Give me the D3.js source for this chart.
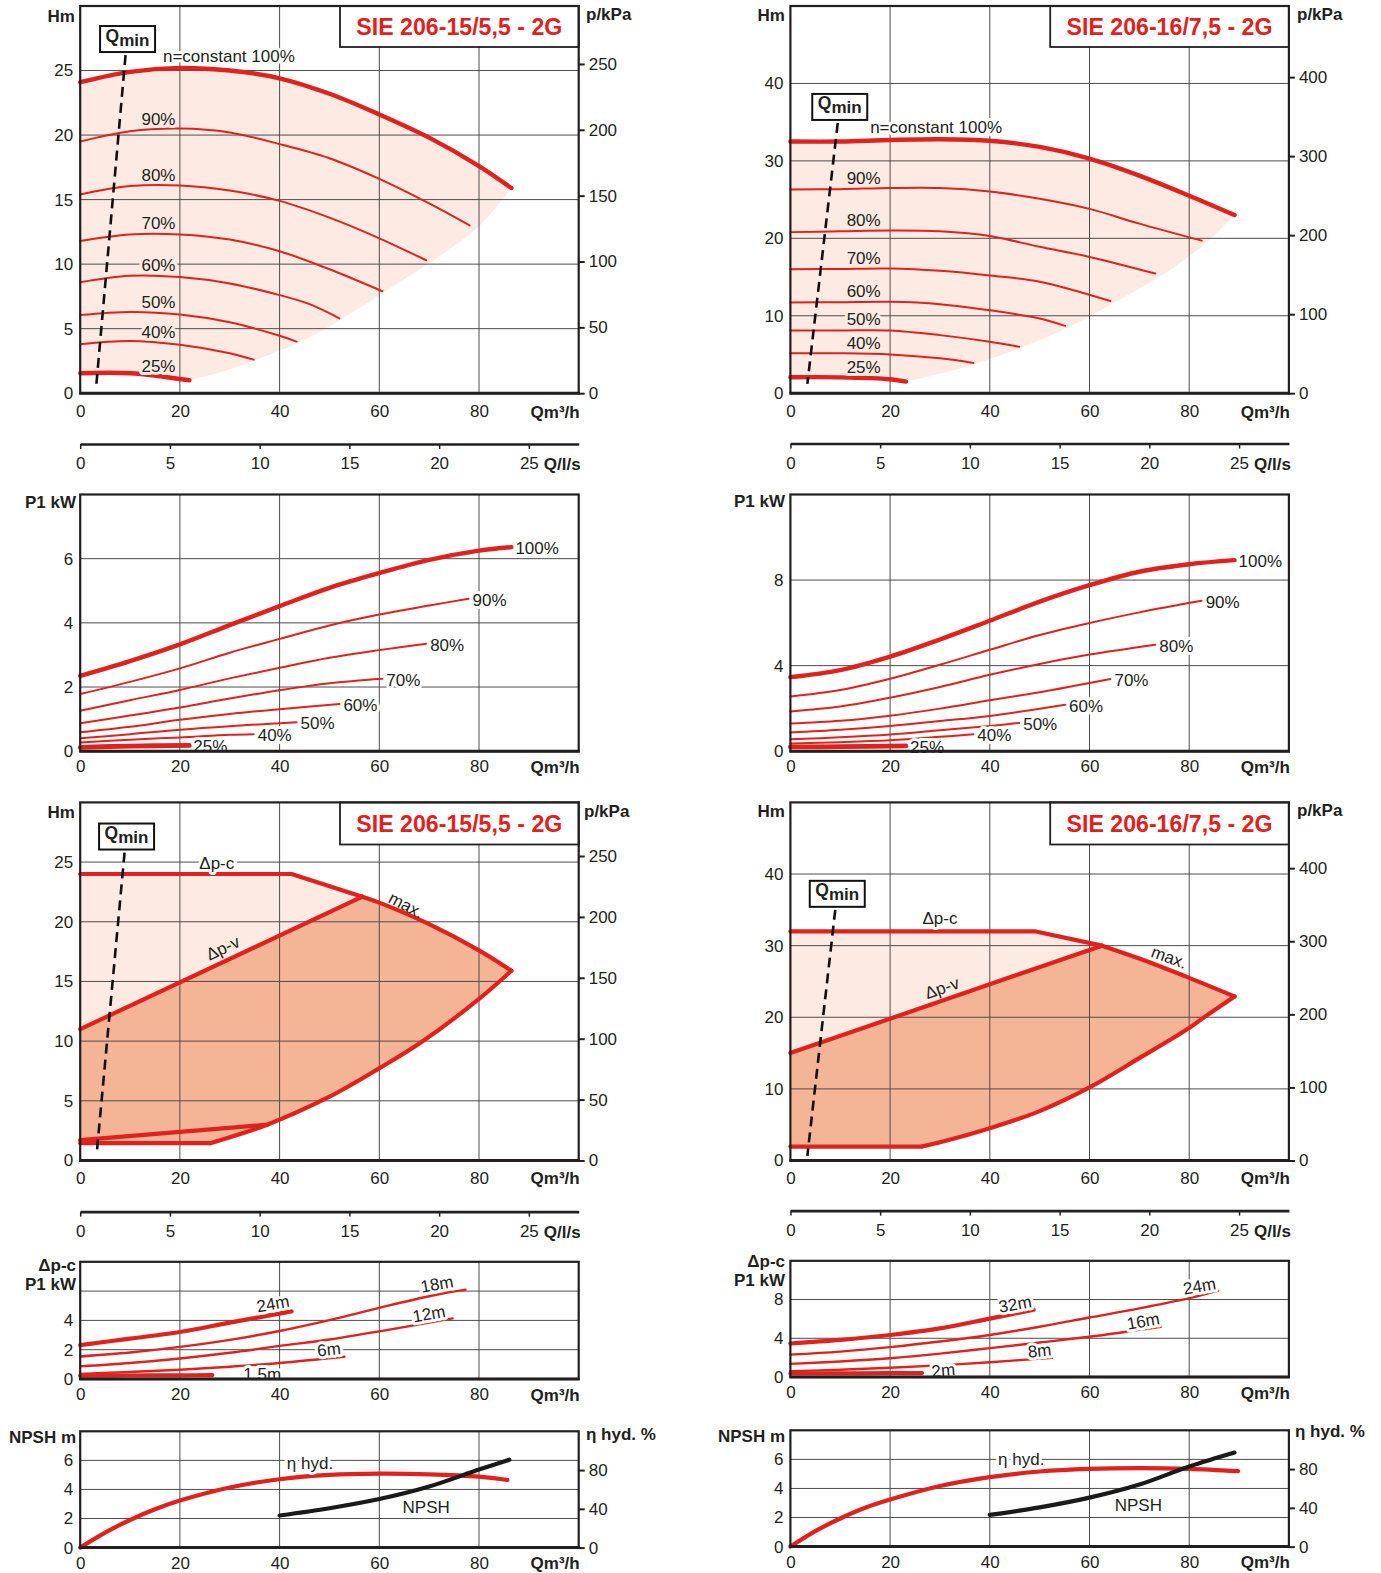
<!DOCTYPE html>
<html>
<head>
<meta charset="utf-8">
<script src="https://cdn.jsdelivr.net/npm/d3@7"></script>
<style>
  body { margin: 0; background: #fff; }
</style>
</head>
<body>
<script>
// ---- values (A = 206-15/5,5, B = 206-16/7,5) ----
const modelA = "SIE 206-15/5,5 - 2G";
const modelB = "SIE 206-16/7,5 - 2G";
const speeds = ["100%", "90%", "80%", "70%", "60%", "50%", "40%", "25%"];

// H [m] against Q [m3/h], one list per speed
const hqA = [
  [[0,24.1],[10,24.9],[20,25.2],[30,25.0],[40,24.4],[50,23.2],[60,21.6],[70,19.8],[80,17.6],[86.5,15.9]],
  [[0,19.5],[10,20.3],[20,20.5],[30,20.2],[40,19.3],[50,18.2],[60,16.6],[70,14.7],[78.1,13.0]],
  [[0,15.4],[10,16.05],[20,16.1],[30,15.7],[40,14.9],[50,13.6],[60,12.0],[69.4,10.3]],
  [[0,11.8],[10,12.3],[20,12.3],[30,11.9],[40,11.0],[50,9.6],[60.6,7.9]],
  [[0,8.6],[10,9.1],[20,9.0],[30,8.5],[40,7.6],[46,6.9],[52,5.8]],
  [[0,6.05],[10,6.3],[20,6.1],[30,5.5],[40,4.45],[43.4,4.0]],
  [[0,3.8],[10,4.05],[20,3.75],[30,3.1],[34.8,2.6]],
  [[0,1.55],[10,1.55],[21.9,1.0]]
];
const hqB = [
  [[0,32.5],[10,32.5],[20,32.7],[30,32.8],[40,32.6],[50,31.8],[60,30.3],[70,28.1],[80,25.5],[89.1,23.0]],
  [[0,26.3],[10,26.35],[20,26.5],[30,26.5],[40,26.05],[50,25.1],[60,23.8],[70,21.9],[82.5,19.7]],
  [[0,20.8],[10,20.9],[20,21.0],[30,20.9],[40,20.3],[50,18.9],[60,17.6],[73.2,15.45]],
  [[0,16.0],[10,16.05],[20,16.1],[30,15.8],[40,15.2],[50,14.4],[64.2,11.9]],
  [[0,11.7],[10,11.75],[20,11.8],[30,11.5],[40,10.7],[50,9.65],[55.1,8.7]],
  [[0,8.1],[10,8.1],[20,8.1],[30,7.5],[40,6.65],[45.9,6.0]],
  [[0,5.15],[10,5.15],[20,5.0],[30,4.5],[36.7,3.9]],
  [[0,2.06],[10,2.05],[20,1.8],[23.2,1.5]]
];
// lower edge of the shaded working area
const envA = [[86.5,15.9],[80.2,13.0],[70.9,10.3],[61.2,7.9],[52.7,5.8],[44.3,4.0],[35.4,2.6],[28,1.6],[21.9,1.0]];
const envB = [[89.1,23.0],[83.9,19.7],[75.1,15.45],[65.5,11.9],[56.4,8.7],[46.8,6.0],[37.6,3.9],[30,2.5],[23.2,1.5]];

// P1 [kW] against Q
const p1A = [
  [[0,2.35],[10,2.81],[20,3.33],[30,3.93],[40,4.52],[50,5.09],[60,5.55],[70,5.96],[80,6.25],[86.5,6.36]],
  [[0,1.78],[10,2.16],[20,2.58],[30,3.07],[40,3.50],[50,3.92],[60,4.26],[70,4.54],[77.9,4.75]],
  [[0,1.26],[10,1.59],[20,1.91],[30,2.27],[40,2.60],[50,2.91],[60,3.15],[69.4,3.35]],
  [[0,0.87],[10,1.11],[20,1.36],[30,1.64],[40,1.90],[50,2.12],[60.6,2.26]],
  [[0,0.59],[10,0.76],[20,0.98],[30,1.16],[40,1.31],[52,1.47]],
  [[0,0.40],[10,0.53],[20,0.67],[30,0.78],[40,0.87],[43.4,0.90]],
  [[0,0.27],[10,0.36],[20,0.43],[30,0.51],[34.8,0.53]],
  [[0,0.12],[10,0.16],[21.9,0.18]]
];
const p1B = [
  [[0,3.46],[10,3.79],[20,4.42],[30,5.22],[40,6.10],[50,6.99],[60,7.76],[70,8.39],[80,8.74],[89.1,8.93]],
  [[0,2.56],[10,2.86],[20,3.39],[30,4.04],[40,4.74],[50,5.43],[60,5.99],[70,6.49],[82.5,7.03]],
  [[0,1.86],[10,2.09],[20,2.50],[30,3.00],[40,3.57],[50,4.08],[60,4.52],[73.2,4.98]],
  [[0,1.29],[10,1.42],[20,1.66],[30,1.99],[40,2.38],[50,2.76],[64.2,3.38]],
  [[0,0.87],[10,1.00],[20,1.18],[30,1.41],[40,1.65],[55.1,2.17]],
  [[0,0.56],[10,0.65],[20,0.78],[30,0.98],[40,1.18],[45.9,1.32]],
  [[0,0.36],[10,0.42],[20,0.51],[30,0.67],[36.7,0.79]],
  [[0,0.20],[10,0.21],[23.2,0.25]]
];

// Qmin dashed lines [Q, H]
const qminTopA = [[9.1,26.2],[3.2,0.5]];
const qminTopB = [[9.5,34.9],[3.4,1.2]];
const qminCtlA = [[8.9,25.8],[3.3,0.55]];
const qminCtlB = [[9.0,35.0],[3.4,0.65]];

// control-mode field (delta p-c / delta p-v / max / min)
const dpcA = [[0,24],[42.4,24],[56.6,22.1]];
const dpvA = [[0,11],[56.6,22.1]];
const maxA = [[56.6,22.1],[60,21.6],[70,19.8],[80,17.6],[86.5,15.9]];
const lowA = [[86.5,15.9],[80.2,13.6],[68.4,9.9],[59.9,7.7],[49.8,5.3],[37.5,3.0],[26.1,1.45]];
const minA = [[0,1.45],[26.1,1.45]];
const dpvLowA = [[0,1.7],[37.5,3.0]];
const dpcB = [[0,32],[49,32],[62.5,30]];
const dpvB = [[0,15],[62.5,30]];
const maxB = [[62.5,30],[70,28.2],[80,25.5],[89.1,22.9]];
const lowB = [[89.1,22.9],[83,20.0],[80,18.5],[70,14.3],[60,10.2],[50,6.9],[40,4.5],[30.6,2.65],[26.4,1.95]];
const minB = [[0,1.95],[26.4,1.95]];

// P1 [kW] at constant delta p-c heads
const headsA = ["24m", "18m", "12m", "6m", "1.5m"];
const dpcP1A = [
  [[0,2.31],[10,2.76],[20,3.21],[30,3.85],[42.4,4.62]],
  [[0,1.54],[10,1.81],[20,2.19],[30,2.67],[40,3.28],[50,4.02],[60,4.86],[70,5.65],[77.3,6.1]],
  [[0,0.86],[10,1.09],[20,1.40],[30,1.79],[40,2.26],[50,2.70],[60,3.25],[74.7,4.14]],
  [[0,0.34],[10,0.48],[20,0.63],[30,0.84],[40,1.09],[53,1.52]],
  [[0,0.23],[10,0.24],[20,0.25],[26.5,0.27]]
];
const headsB = ["32m", "24m", "16m", "8m", "2m"];
const dpcP1B = [
  [[0,3.46],[10,3.83],[20,4.34],[30,5.02],[40,6.03],[48.8,6.95]],
  [[0,2.31],[10,2.62],[20,3.08],[30,3.66],[40,4.34],[50,5.19],[60,6.14],[70,7.08],[80,8.14],[85.8,8.92]],
  [[0,1.36],[10,1.6],[20,1.93],[30,2.41],[40,2.98],[50,3.56],[60,4.15],[74.3,5.19]],
  [[0,0.61],[10,0.75],[20,0.95],[30,1.20],[40,1.53],[52.5,1.97]],
  [[0,0.37],[10,0.38],[20,0.39],[26.4,0.40]]
];

// hydraulic efficiency [%] and NPSH [m]
const etaA = [[0,0],[5,15.5],[10,28.5],[15,39.5],[20,48.5],[30,62],[40,70.5],[50,75],[60,76.3],[70,75.6],[80,73.2],[85.7,69.8]];
const npshA = [[40,2.21],[50,2.71],[60,3.34],[70,4.20],[80,5.37],[86.1,6.05]];
const etaB = [[0,0],[5,16],[10,29],[15,40],[20,48.5],[30,62.5],[40,71.7],[50,77.5],[60,80.2],[70,80.9],[80,80.2],[89.8,77.8]];
const npshB = [[40,2.18],[50,2.7],[60,3.37],[70,4.27],[80,5.51],[89.1,6.47]];

// tick values
const qTicks = [0, 20, 40, 60, 80];
const lpsTicks = [0, 5, 10, 15, 20, 25];
const hTicksA = [0, 5, 10, 15, 20, 25];
const kpaTicksA = [0, 50, 100, 150, 200, 250];
const hTicksB = [0, 10, 20, 30, 40];
const kpaTicksB = [0, 100, 200, 300, 400];
const p1TicksA = [0, 2, 4, 6];
const p1TicksB = [0, 4, 8];
const dpcTicksA = [0, 2, 4];
const dpcTicksB = [0, 4, 8];
const npshTicks = [0, 2, 4, 6];
const etaTicks = [0, 40, 80];

// ---- drawing ----
const FONT = '"Liberation Sans", Arial, Helvetica, sans-serif';
const RED = "#e3211c", PINK = "#fdebe3", SALMON = "#f4b496", INK = "#231f20", GRID = "#4d4d4d";
const FS = 17, FSB = 17;

const svg = d3.select("body").append("svg")
  .attr("width", 1381).attr("height", 1573)
  .attr("font-family", FONT)
  .style("display", "block");

const colA = {x0: 80.2, x1: 578.7};
const colB = {x0: 790.4, x1: 1288.9};

function at(pts, q) {
  for (let i = 1; i < pts.length; i++) {
    if (q <= pts[i][0]) {
      const [a, b] = pts[i - 1], [c, d] = pts[i];
      return b + (d - b) * (q - a) / (c - a);
    }
  }
  return pts[pts.length - 1][1];
}

function styleAxis(a) {
  a.attr("font-size", FS).attr("font-family", FONT).attr("color", INK);
}

function panel(c, y0, y1, o) {
  const x = d3.scaleLinear().domain([0, 100]).range([c.x0, c.x1]);
  const y = d3.scaleLinear().domain(o.yDom).range([y1, y0]);
  const y2 = o.y2Dom ? d3.scaleLinear().domain(o.y2Dom).range([y1, y0]) : null;
  const g = svg.append("g");
  const p = {x, y, y2, c, y0, y1, g};
  p.fill = g.append("g");
  p.grid = g.append("g").attr("stroke", GRID).attr("stroke-width", 1);
  p.grid.selectAll(null).data(qTicks.slice(1)).join("line")
    .attr("x1", x).attr("x2", x).attr("y1", y0).attr("y2", y1);
  p.grid.selectAll(null).data(o.yGrid).join("line")
    .attr("x1", c.x0).attr("x2", c.x1).attr("y1", y).attr("y2", y);
  p.marks = g.append("g").attr("fill", "none")
    .attr("stroke-linecap", "round").attr("stroke-linejoin", "round");
  p.text = g.append("g");

  // frame
  g.append("rect").attr("x", c.x0).attr("y", y0)
    .attr("width", c.x1 - c.x0).attr("height", y1 - y0)
    .attr("fill", "none").attr("stroke", INK).attr("stroke-width", 2.2);
  g.append("line").attr("x1", c.x0 - 1).attr("x2", c.x1 + 1).attr("y1", y1).attr("y2", y1)
    .attr("stroke", INK).attr("stroke-width", 3);

  // Q axis labels
  const ax = g.append("g").attr("transform", `translate(0,${y1})`)
    .call(d3.axisBottom(x).tickValues(qTicks).tickSize(0).tickPadding(o.xPad));
  ax.select(".domain").remove();
  styleAxis(ax);
  g.append("text").attr("x", c.x1 + 1).attr("y", y1 + o.xPad + 12.5)
    .attr("text-anchor", "end").attr("font-weight", "bold").attr("font-size", FSB)
    .attr("fill", INK).text("Qm³/h");

  // left axis
  const ay = g.append("g").attr("transform", `translate(${c.x0},0)`)
    .call(d3.axisLeft(y).tickValues(o.yTicks).tickSize(0).tickPadding(7));
  ay.select(".domain").remove();
  styleAxis(ay);

  // right axis
  if (y2) {
    const ay2 = g.append("g").attr("transform", `translate(${c.x1},0)`)
      .call(d3.axisRight(y2).tickValues(o.y2Ticks).tickSize(6).tickPadding(4));
    ay2.select(".domain").remove();
    ay2.selectAll("line").attr("stroke-width", 2);
    styleAxis(ay2);
  }
  return p;
}

function lineOf(p, curve, sy) {
  const ys = sy || p.y;
  return d3.line().x(d => p.x(d[0])).y(d => ys(d[1])).curve(curve || d3.curveCatmullRom.alpha(0.5));
}

function bgText(layer, x, y, txt, bg, opts) {
  opts = opts || {};
  const t = layer.append("text")
    .attr("transform", `translate(${x},${y}) rotate(${opts.rot || 0})`)
    .attr("text-anchor", opts.anchor || "middle")
    .attr("dy", opts.dy || "0.35em")
    .attr("font-size", opts.size || FS)
    .attr("fill", INK)
    .text(txt);
  if (bg) t.attr("stroke", bg).attr("stroke-width", 6).attr("paint-order", "stroke").attr("stroke-linejoin", "round");
  return t;
}

function axisTitle(x, y, lines, anchor) {
  const t = svg.append("text").attr("x", x).attr("y", y)
    .attr("text-anchor", anchor).attr("font-weight", "bold").attr("font-size", FSB).attr("fill", INK);
  lines.forEach((s, i) => t.append("tspan").attr("x", x).attr("dy", i ? 19 : 0).text(s));
}

function titleBox(p, yBottom, name) {
  const x0 = p.c.x1 - 238.7;
  p.text.append("rect").attr("x", x0).attr("y", p.y0)
    .attr("width", 238.7).attr("height", yBottom - p.y0)
    .attr("fill", "#fff").attr("stroke", INK).attr("stroke-width", 1.8);
  p.text.append("text").attr("x", x0 + 119.3).attr("y", (p.y0 + yBottom) / 2 + 8.5)
    .attr("text-anchor", "middle").attr("font-weight", "bold").attr("font-size", 23)
    .attr("fill", RED).attr("textLength", 206).attr("lengthAdjust", "spacingAndGlyphs")
    .text(name);
}

function qmin(p, pts) {
  p.marks.append("path").datum(pts)
    .attr("d", lineOf(p, d3.curveLinear))
    .attr("stroke", "#111").attr("stroke-width", 2.6)
    .attr("stroke-dasharray", "10,6").attr("stroke-linecap", "butt");
  const cx = p.x(pts[0][0]) + 2, by = p.y(pts[0][1]) - 3;
  p.text.append("rect").attr("x", cx - 27.5).attr("y", by - 26).attr("width", 55).attr("height", 26)
    .attr("fill", "#fff").attr("stroke", "#111").attr("stroke-width", 2);
  const t = p.text.append("text").attr("x", cx - 22).attr("y", by - 10.5)
    .attr("font-weight", "bold").attr("font-size", 17.5).attr("fill", INK).text("Q");
  t.append("tspan").attr("dy", 4).attr("font-size", 17).text("min");
}

function lpsAxis(c, yy) {
  const xl = d3.scaleLinear().domain([0, 100 / 3.6]).range([c.x0, c.x1]);
  const a = svg.append("g").attr("transform", `translate(0,${yy})`)
    .call(d3.axisBottom(xl).tickValues(lpsTicks).tickSize(5).tickSizeOuter(0).tickPadding(8));
  a.select(".domain").attr("stroke-width", 2.6);
  a.selectAll(".tick line").attr("stroke-width", 1.5);
  styleAxis(a);
  svg.append("text").attr("x", c.x1 + 2).attr("y", yy + 26)
    .attr("text-anchor", "end").attr("font-weight", "bold").attr("font-size", FSB)
    .attr("fill", INK).text("Q/l/s");
}

// ---------- speed-curve H-Q charts ----------
function speedChart(c, hq, env, qminPts, yDom, yTicks, kpaDom, kpaTicks, name, lblQ, nQ) {
  const p = panel(c, 6, 393.2, {yDom, yTicks, yGrid: yTicks.slice(1), y2Dom: kpaDom, y2Ticks: kpaTicks, xPad: 12});
  const cr = lineOf(p);
  const top = hq[0], low = hq[hq.length - 1];
  p.fill.append("path")
    .attr("d", cr(top) + "L" + cr(env).slice(1) + "L" + cr(low.slice().reverse()).slice(1) + "Z")
    .attr("fill", PINK);
  p.marks.selectAll(null).data(hq).join("path")
    .attr("d", lineOf(p))
    .attr("stroke", RED)
    .attr("stroke-width", (d, i) => (i === 0 || i === hq.length - 1) ? 4.4 : 2);
  qmin(p, qminPts);
  hq.slice(1).forEach((pts, i) => {
    bgText(p.text, p.x(lblQ), p.y(at(pts, lblQ)) - 11, speeds[i + 1], PINK);
  });
  const hMax = d3.max(top, d => d[1]);
  bgText(p.text, p.x(nQ), p.y(hMax) - 12, "n=constant 100%", "#fff", {anchor: "start"});
  titleBox(p, 47, name);
  return p;
}

speedChart(colA, hqA, envA, qminTopA, [0, 30], hTicksA, [0, 294], kpaTicksA, modelA, 15.7, 16.6);
speedChart(colB, hqB, envB, qminTopB, [0, 50], hTicksB, [0, 490], kpaTicksB, modelB, 14.7, 16.0);
axisTitle(75, 22, ["Hm"], "end");
axisTitle(586, 20, ["p/kPa"], "start");
axisTitle(785, 21, ["Hm"], "end");
axisTitle(1297, 20, ["p/kPa"], "start");

lpsAxis(colA, 444);
lpsAxis(colB, 443.5);

// ---------- P1 charts ----------
function p1Chart(c, data, yDom, yTicks, yGrid) {
  const p = panel(c, 494.5, 751.2, {yDom, yTicks, yGrid, xPad: 9});
  p.marks.selectAll(null).data(data).join("path")
    .attr("d", lineOf(p))
    .attr("stroke", RED)
    .attr("stroke-width", (d, i) => i === 0 ? 4.4 : (i === data.length - 1 ? 4.8 : 2));
  data.forEach((pts, i) => {
    const e = pts[pts.length - 1];
    bgText(p.text, p.x(e[0]) + 4, p.y(e[1]) + 1, speeds[i], "#fff", {anchor: "start"});
  });
  return p;
}
p1Chart(colA, p1A, [0, 8], p1TicksA, [2, 4, 6]);
p1Chart(colB, p1B, [0, 12], p1TicksB, [4, 8]);
axisTitle(76, 508, ["P1 kW"], "end");
axisTitle(785, 507, ["P1 kW"], "end");

// ---------- control-mode H-Q charts ----------
function ctrlChart(c, dpc, dpv, mx, low, mn, dpvLow, qminPts, yDom, yTicks, kpaDom, kpaTicks, name, lbl) {
  const p = panel(c, 802.4, 1160.5, {yDom, yTicks, yGrid: yTicks.slice(1), y2Dom: kpaDom, y2Ticks: kpaTicks, xPad: 11});
  const lin = lineOf(p, d3.curveLinear), cr = lineOf(p);
  p.fill.append("path")
    .attr("d", lin(dpc) + "L" + lin(dpv.slice().reverse()).slice(1) + "Z")
    .attr("fill", PINK);
  p.fill.append("path")
    .attr("d", lin(dpv) + "L" + cr(mx).slice(1) + "L" + cr(low).slice(1) + "L" + lin(mn.slice().reverse()).slice(1) + "Z")
    .attr("fill", SALMON);
  const segs = [[dpc, lin], [dpv, lin], [mx, cr], [low, cr], [mn, lin]];
  if (dpvLow) segs.push([dpvLow, lin]);
  segs.forEach(([pts, gen]) => {
    p.marks.append("path").attr("d", gen(pts)).attr("stroke", RED).attr("stroke-width", 4.2);
  });
  qmin(p, qminPts);
  bgText(p.text, p.x(lbl.dpc[0]), p.y(lbl.dpc[1]), "Δp-c", "#fff");
  bgText(p.text, p.x(lbl.max[0]), p.y(lbl.max[1]), "max.", null, {rot: lbl.max[2]});
  bgText(p.text, p.x(lbl.dpv[0]), p.y(lbl.dpv[1]), "Δp-v", null, {rot: lbl.dpv[2]});
  titleBox(p, 844.5, name);
  return p;
}
ctrlChart(colA, dpcA, dpvA, maxA, lowA, minA, dpvLowA, qminCtlA, [0, 30], hTicksA, [0, 294], kpaTicksA, modelA,
  {dpc: [27.4, 24.95], max: [65.4, 21.4, 28], dpv: [28.6, 17.8, -25]});
ctrlChart(colB, dpcB, dpvB, maxB, lowB, minB, null, qminCtlB, [0, 50], hTicksB, [0, 490], kpaTicksB, modelB,
  {dpc: [30.0, 33.9], max: [76.0, 28.4, 20], dpv: [30.4, 24.1, -19]});
axisTitle(75, 818, ["Hm"], "end");
axisTitle(584, 817, ["p/kPa"], "start");
axisTitle(785, 817, ["Hm"], "end");
axisTitle(1297, 816, ["p/kPa"], "start");

lpsAxis(colA, 1211.6);
lpsAxis(colB, 1210.6);

// ---------- P1 at constant delta p-c ----------
const headLblA = [{dx: -1, dy: -3, rot: -10}, {dx: -11, dy: -1, rot: -10}, {dx: -6, dy: 0, rot: -10},
  {dx: -3, dy: -1, rot: -6}, {dx: 31, dy: 5, rot: 0, start: true}];
const headLblB = [{dx: -1, dy: -1, rot: -10}, {dx: -1, dy: 0, rot: -10}, {dx: 0, dy: -1, rot: -10},
  {dx: 0, dy: -1, rot: -6}, {dx: 10, dy: 4, rot: -5, start: true}];
function dpcChart(c, y0, y1, data, heads, lbl, yDom, yTicks, yGrid) {
  const p = panel(c, y0, y1, {yDom, yTicks, yGrid, xPad: 9});
  p.marks.selectAll(null).data(data).join("path")
    .attr("d", lineOf(p))
    .attr("stroke", RED)
    .attr("stroke-width", (d, i) => (i === 0 || i === data.length - 1) ? 4.2 : 2.4);
  data.forEach((pts, i) => {
    const e = pts[pts.length - 1], L = lbl[i];
    bgText(p.text, p.x(e[0]) + L.dx, p.y(e[1]) + L.dy, heads[i], "#fff",
      {anchor: L.start ? "start" : "end", rot: L.rot, dy: L.start ? "0" : "-0.1em"});
  });
  return p;
}
dpcChart(colA, 1261.8, 1379, dpcP1A, headsA, headLblA, [0, 8], dpcTicksA, [2, 4, 6]);
dpcChart(colB, 1260.8, 1377, dpcP1B, headsB, headLblB, [0, 12], dpcTicksB, [4, 8]);
axisTitle(76, 1271, ["Δp-c", "P1 kW"], "end");
axisTitle(785, 1267, ["Δp-c", "P1 kW"], "end");

// ---------- NPSH / efficiency ----------
function npshChart(c, y0, y1, eta, npsh, lblEta, lblNpsh) {
  const p = panel(c, y0, y1, {yDom: [0, 8], yTicks: npshTicks, yGrid: [2, 4, 6], y2Dom: [0, 120], y2Ticks: etaTicks, xPad: 9});
  p.marks.append("path").datum(eta).attr("d", lineOf(p, null, p.y2))
    .attr("stroke", RED).attr("stroke-width", 4.2);
  p.marks.append("path").datum(npsh).attr("d", lineOf(p))
    .attr("stroke", "#1a1a1a").attr("stroke-width", 4.2);
  bgText(p.text, p.x(lblEta[0]), p.y(lblEta[1]), "η hyd.", "#fff");
  bgText(p.text, p.x(lblNpsh[0]), p.y(lblNpsh[1]), "NPSH", null);
  return p;
}
npshChart(colA, 1431.3, 1547.6, etaA, npshA, [46.1, 5.82], [69.4, 2.76]);
npshChart(colB, 1430.3, 1546.6, etaB, npshB, [46.3, 6.0], [69.8, 2.83]);
axisTitle(76, 1443, ["NPSH m"], "end");
axisTitle(586, 1440, ["η hyd. %"], "start");
axisTitle(785, 1442, ["NPSH m"], "end");
axisTitle(1295, 1437, ["η hyd. %"], "start");
</script>
</body>
</html>
